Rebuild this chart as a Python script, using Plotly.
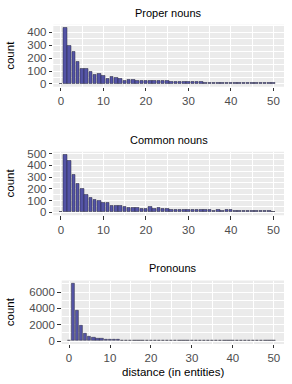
import plotly.graph_objects as go

W, H = 292, 384

distance = list(range(0, 51))

proper_nouns = [0, 437, 299, 247, 170, 114, 120, 96, 72, 76, 66, 40, 55, 48, 38, 23,
                30, 30, 28, 26, 25, 27, 24, 22, 23, 21, 16, 15, 15, 14, 16, 17, 13, 14,
                12, 12, 11, 10, 9, 9, 8, 12, 11, 9, 10, 10, 9, 10, 9, 10, 8]

common_nouns = [0, 491, 435, 321, 239, 202, 153, 122, 105, 94, 82, 80, 51, 51, 54, 43,
                40, 40, 34, 31, 31, 43, 28, 34, 28, 31, 20, 21, 20, 19, 18, 19, 18, 20,
                19, 17, 16, 17, 15, 18, 17, 12, 13, 12, 12, 13, 13, 15, 13, 10, 8]

pronouns = [0, 7050, 3770, 1830, 970, 570, 365, 285, 240, 180, 150, 130, 115, 100, 90,
            80, 75, 70, 65, 60, 58, 55, 52, 50, 48, 45, 43, 42, 40, 38, 36, 35, 34, 33,
            32, 30, 29, 28, 27, 26, 25, 25, 24, 23, 22, 22, 21, 21, 20, 20, 19]

titles = ["Proper nouns", "Common nouns", "Pronouns"]
series = [proper_nouns, common_nouns, pronouns]
y_ticks = [[0, 100, 200, 300, 400], [0, 100, 200, 300, 400, 500], [0, 2000, 4000, 6000]]
y_minor = [50, 50, 1000]
y_ranges = [[-22, 459], [-25, 516], [-352, 7400]]

# panel pixel boxes (left, right, top, bottom)
boxes = [(53.3, 284, 24.8, 86.8), (53.3, 284, 151.8, 215.2), (61.7, 284, 280.6, 343.9)]
title_y = [13, 140, 268]

BAR_FILL = "#5454a6"
BAR_LINE = "rgba(35,35,55,0.8)"
GRID_BG = "#ebebeb"
TICK_COL = "#4d4d4d"
FONT = "Liberation Sans, Arial, sans-serif"

fig = go.Figure()
for i, (vals, box) in enumerate(zip(series, boxes)):
    xa = "x" if i == 0 else f"x{i+1}"
    ya = "y" if i == 0 else f"y{i+1}"
    fig.add_trace(go.Bar(x=distance, y=vals, xaxis=xa, yaxis=ya, width=0.8,
                         marker=dict(color=BAR_FILL, line=dict(color=BAR_LINE, width=0.6)),
                         showlegend=False))
    l, r, t, b = box
    xkey = "xaxis" if i == 0 else f"xaxis{i+1}"
    ykey = "yaxis" if i == 0 else f"yaxis{i+1}"
    fig.layout[xkey] = dict(
        domain=[l / W, r / W], anchor=ya, range=[-1.8, 52.5],
        tickvals=[0, 10, 20, 30, 40, 50], ticks="outside", ticklen=3.5, tickwidth=1,
        tickcolor="#333333", showgrid=True, gridcolor="white", gridwidth=1.1,
        minor=dict(tickvals=[5, 15, 25, 35, 45], showgrid=True, gridcolor="white",
                   gridwidth=0.5, ticks=""),
        zeroline=False, showline=False, automargin=False,
        tickfont=dict(size=11.5, color=TICK_COL, family=FONT), fixedrange=True)
    fig.layout[ykey] = dict(
        domain=[1 - b / H, 1 - t / H], anchor=xa, range=y_ranges[i],
        tickvals=y_ticks[i], ticks="outside", ticklen=3.5, tickwidth=1,
        tickcolor="#333333", showgrid=True, gridcolor="white", gridwidth=1.1,
        minor=dict(dtick=y_minor[i] * 2, tick0=y_minor[i], showgrid=True,
                   gridcolor="white", gridwidth=0.5, ticks=""),
        zeroline=False, showline=False, automargin=False,
        tickfont=dict(size=11.5, color=TICK_COL, family=FONT), fixedrange=True)
    fig.add_shape(type="rect", xref="paper", yref="paper",
                  x0=l / W, x1=r / W, y0=1 - b / H, y1=1 - t / H,
                  fillcolor=GRID_BG, line_width=0, layer="below")
    fig.add_annotation(text=titles[i], xref="paper", yref="paper",
                       x=(l + r) / 2 / W, y=1 - title_y[i] / H, showarrow=False,
                       font=dict(size=11, color="black", family=FONT),
                       xanchor="center", yanchor="middle")
    fig.add_annotation(text="count", xref="paper", yref="paper",
                       x=10 / W, y=1 - (t + b) / 2 / H, showarrow=False, textangle=-90,
                       font=dict(size=11.5, color="black", family=FONT),
                       xanchor="center", yanchor="middle")

fig.add_annotation(text="distance (in entities)", xref="paper", yref="paper",
                   x=(61.7 + 284) / 2 / W, y=1 - 372 / H, showarrow=False,
                   font=dict(size=11.5, color="black", family=FONT),
                   xanchor="center", yanchor="middle")

fig.update_layout(width=W, height=H, margin=dict(l=0, r=0, t=0, b=0),
                  paper_bgcolor="white", plot_bgcolor="rgba(0,0,0,0)",
                  bargap=0, font=dict(family=FONT))

fig.write_html("out.html", config={"displayModeBar": False},
               post_script="document.body.style.margin='0';document.body.style.overflow='hidden';")
